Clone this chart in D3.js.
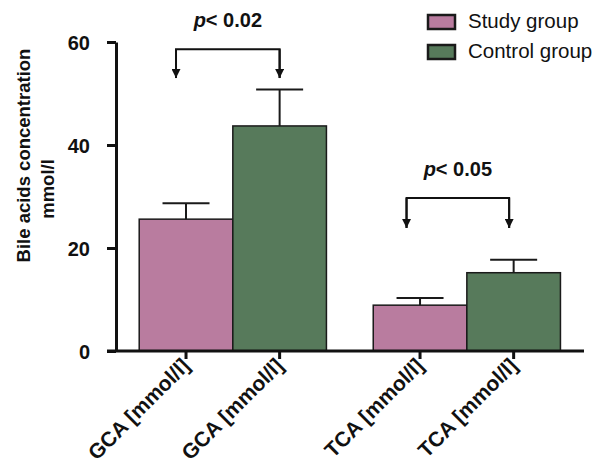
<!DOCTYPE html>
<html>
<head>
<meta charset="utf-8">
<script src="https://cdn.jsdelivr.net/npm/d3@7"></script>
<style>
  body { margin: 0; background: #fff; }
  text { font-family: "Liberation Sans", Arial, sans-serif; fill: #111; }
</style>
</head>
<body>
<svg class="BarChart" width="599" height="464"></svg>
<script>
// data
var groups = ["GCA", "TCA"];
var series = ["Study group", "Control group"];
var meanStudy = [25.6, 8.9];
var meanControl = [43.7, 15.2];
var sdStudy = [3.1, 1.4];
var sdControl = [7.1, 2.5];
var yTicks = [0, 20, 40, 60];
var xLabels = ["GCA [mmol/l]", "GCA [mmol/l]", "TCA [mmol/l]", "TCA [mmol/l]"];
var pLabels = ["0.02", "0.05"];
var bracketTop = [58.6, 29.7];
var bracketTip = [53.0, 23.9];

var colors = {"Study group": "#b97c9f", "Control group": "#577a5b"};

var meta = {};
meta['svg'] = d3.select(".BarChart");

var rows = [];
for (var i = 0; i < groups.length; i++) {
    rows.push({group: groups[i], series: series[0], value: meanStudy[i], sd: sdStudy[i], label: xLabels[i*2]});
    rows.push({group: groups[i], series: series[1], value: meanControl[i], sd: sdControl[i], label: xLabels[i*2+1]});
}

const x0 = d3.scaleBand()
    .domain(groups)
    .range([108, 584])
    .paddingInner(0.2)
    .paddingOuter(0.117)
    .align(0.57);

const x1 = d3.scaleBand()
    .domain(series)
    .range([0, x0.bandwidth()]);

const yScale = d3.scaleLinear()
    .domain([0, 60])
    .range([351, 42]);

var svg = meta['svg'];

// bars
svg.selectAll('.bar')
    .data(rows)
    .enter()
    .append('rect')
    .attr('class', 'bar')
    .attr('x', d => x0(d.group) + x1(d.series))
    .attr('y', d => yScale(d.value))
    .attr('width', x1.bandwidth())
    .attr('height', d => yScale(0) - yScale(d.value))
    .attr('fill', d => colors[d.series])
    .attr('stroke', '#1a1a1a')
    .attr('stroke-width', 1.5);

// error bars
var err = svg.selectAll('.err')
    .data(rows)
    .enter()
    .append('g')
    .attr('class', 'err')
    .attr('stroke', '#1a1a1a')
    .attr('stroke-width', 2);

err.append('line')
    .attr('x1', d => x0(d.group) + x1(d.series) + x1.bandwidth()/2)
    .attr('x2', d => x0(d.group) + x1(d.series) + x1.bandwidth()/2)
    .attr('y1', d => yScale(d.value))
    .attr('y2', d => yScale(d.value + d.sd));

err.append('line')
    .attr('x1', d => x0(d.group) + x1(d.series) + x1.bandwidth()/2 - 23.5)
    .attr('x2', d => x0(d.group) + x1(d.series) + x1.bandwidth()/2 + 23.5)
    .attr('y1', d => yScale(d.value + d.sd))
    .attr('y2', d => yScale(d.value + d.sd));

// y axis
var yAxis = svg.append('g')
    .attr('transform', 'translate(116,0)')
    .call(d3.axisLeft(yScale).tickValues(yTicks).tickSize(9).tickSizeOuter(0));
yAxis.select('.domain').attr('stroke', '#111').attr('stroke-width', 3);
yAxis.selectAll('.tick line').attr('stroke', '#111').attr('stroke-width', 3);
yAxis.selectAll('.tick text')
    .attr('x', -26)
    .attr('dy', '0.36em')
    .style('font-size', '20px')
    .style('font-weight', 'bold')
    .attr('fill', '#111');
yAxis.attr('font-family', null).attr('font-size', null);

// x axis line + ticks
svg.append('line')
    .attr('x1', 107).attr('x2', 584)
    .attr('y1', yScale(0)).attr('y2', yScale(0))
    .attr('stroke', '#111')
    .attr('stroke-width', 3);

var xt = svg.selectAll('.xtick')
    .data(rows)
    .enter()
    .append('g')
    .attr('class', 'xtick')
    .attr('transform', d => `translate(${x0(d.group) + x1(d.series) + x1.bandwidth()/2}, ${yScale(0)})`);

xt.append('line')
    .attr('y1', 0).attr('y2', 8)
    .attr('stroke', '#111')
    .attr('stroke-width', 3);

xt.append('text')
    .attr('transform', 'translate(5,16) rotate(-45)')
    .attr('text-anchor', 'end')
    .style('font-size', '21px')
    .style('font-weight', 'bold')
    .text(d => d.label);

// y axis title
svg.append('text')
    .attr('transform', 'translate(30,155.5) rotate(-90)')
    .attr('text-anchor', 'middle')
    .style('font-size', '18.5px')
    .style('font-weight', 'bold')
    .text("Bile acids concentration");

svg.append('text')
    .attr('transform', 'translate(54,189) rotate(-90)')
    .attr('text-anchor', 'middle')
    .style('font-size', '18.5px')
    .style('font-weight', 'bold')
    .text("mmol/l");

// significance brackets
var defs = svg.append('defs');
defs.append('marker')
    .attr('id', 'arrow')
    .attr('viewBox', '0 0 10 10')
    .attr('refX', 10).attr('refY', 5)
    .attr('markerWidth', 9).attr('markerHeight', 9)
    .attr('markerUnits', 'userSpaceOnUse')
    .attr('orient', 'auto')
    .append('path')
    .attr('d', 'M0,0 L10,5 L0,10 Z')
    .attr('fill', '#111');

var leftOffset = [-10, -13.5];
var rightOffset = [0, -4.5];

for (var j = 0; j < groups.length; j++) {
    var cx1 = x0(groups[j]) + x1(series[0]) + x1.bandwidth()/2 + leftOffset[j];
    var cx2 = x0(groups[j]) + x1(series[1]) + x1.bandwidth()/2 + rightOffset[j];
    var yt = yScale(bracketTop[j]);
    var yb = yScale(bracketTip[j]);
    var b = svg.append('g').attr('class', 'bracket');
    b.append('path')
        .attr('d', `M${cx1},${yb} L${cx1},${yt} L${cx2},${yt} L${cx2},${yb}`)
        .attr('fill', 'none')
        .attr('stroke', '#111')
        .attr('stroke-width', 2);
    b.append('line')
        .attr('x1', cx1).attr('x2', cx1)
        .attr('y1', yt).attr('y2', yb)
        .attr('stroke', '#111').attr('stroke-width', 2)
        .attr('marker-end', 'url(#arrow)');
    b.append('line')
        .attr('x1', cx2).attr('x2', cx2)
        .attr('y1', yt).attr('y2', yb)
        .attr('stroke', '#111').attr('stroke-width', 2)
        .attr('marker-end', 'url(#arrow)');
    var t = b.append('text')
        .attr('x', (cx1 + cx2)/2)
        .attr('y', yt - 22)
        .attr('text-anchor', 'middle')
        .style('font-size', '20px')
        .style('font-weight', 'bold');
    t.append('tspan').style('font-style', 'italic').text('p');
    t.append('tspan').text('< ' + pLabels[j]);
}

// legend
var legend = svg.selectAll('.legend')
    .data(series)
    .enter()
    .append('g')
    .attr('class', 'legend')
    .attr('transform', (d, i) => `translate(428, ${15 + i*30})`);

legend.append('rect')
    .attr('width', 27).attr('height', 14)
    .attr('fill', d => colors[d])
    .attr('stroke', '#1a1a1a')
    .attr('stroke-width', 2.5);

legend.append('text')
    .attr('x', 40)
    .attr('y', 13)
    .style('font-size', '20.5px')
    .text(d => d);
</script>
</body>
</html>
